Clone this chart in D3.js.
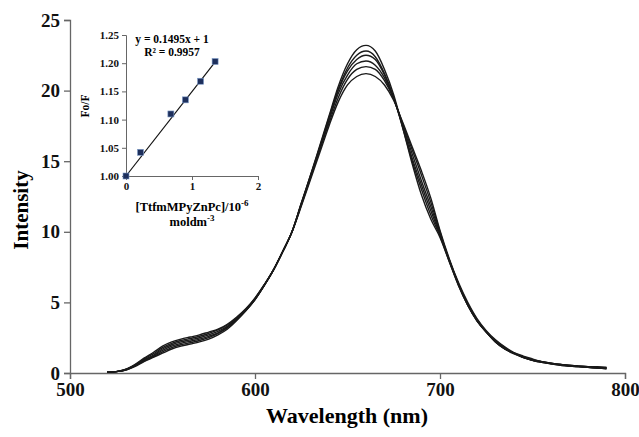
<!DOCTYPE html>
<meta charset="utf-8">
<style>
body { margin: 0; background: #fff; }
svg text { font-family: "Liberation Serif", "Times New Roman", serif; font-weight: bold; }
</style>
<script src="https://cdn.jsdelivr.net/npm/d3@7"></script>
<div id="chart"></div>
<script>
// wavelengths (nm), 5 nm steps
var wl = [520,525,530,535,540,545,550,555,560,565,570,575,580,585,590,595,600,605,610,615,
          620,625,630,635,640,645,650,655,660,665,670,675,680,685,690,695,700,705,710,715,
          720,725,730,735,740,745,750,755,760,765,770,775,780,785,790];

// emission spectra, highest peak first
var spec1 = [0.05,0.1,0.2,0.45,0.8,1.1,1.4,1.7,1.9,2.05,2.2,2.4,2.7,3.1,3.7,4.4,5.2,6.2,7.3,8.6,
             10.0,12.0,14.0,16.1,18.2,20.3,21.9,22.9,23.2,22.8,21.5,19.7,17.3,14.8,12.6,10.9,9.6,7.9,6.2,4.8,
             3.7,2.9,2.2,1.7,1.4,1.1,0.9,0.8,0.7,0.6,0.55,0.5,0.45,0.45,0.4];
var spec2 = [0.05,0.1,0.2,0.5,0.85,1.15,1.5,1.8,2.0,2.15,2.3,2.5,2.8,3.2,3.75,4.4,5.2,6.2,7.3,8.6,
             10.0,12.0,14.0,16.0,18.1,20.1,21.6,22.5,22.8,22.4,21.2,19.5,17.3,15.0,13.0,11.2,9.7,7.9,6.2,4.8,
             3.7,2.9,2.2,1.7,1.4,1.1,0.9,0.8,0.7,0.6,0.55,0.5,0.45,0.4,0.4];
var spec3 = [0.05,0.1,0.2,0.5,0.9,1.2,1.6,1.9,2.1,2.25,2.4,2.6,2.85,3.25,3.8,4.45,5.2,6.2,7.3,8.6,
             10.0,12.0,13.9,15.9,18.0,20.0,21.4,22.2,22.5,22.2,21.1,19.5,17.4,15.2,13.3,11.5,9.8,8.0,6.3,4.8,
             3.7,2.9,2.2,1.7,1.35,1.1,0.9,0.75,0.65,0.6,0.5,0.45,0.45,0.4,0.35];
var spec4 = [0.05,0.1,0.25,0.55,0.95,1.25,1.7,2.0,2.2,2.35,2.5,2.7,2.95,3.3,3.85,4.5,5.25,6.2,7.3,8.6,
             10.0,11.9,13.9,15.9,17.9,19.8,21.1,21.9,22.1,21.8,20.9,19.4,17.5,15.5,13.6,11.8,9.9,8.0,6.3,4.9,
             3.75,2.9,2.25,1.75,1.4,1.1,0.9,0.75,0.65,0.55,0.5,0.45,0.4,0.35,0.35];
var spec5 = [0.05,0.1,0.25,0.55,1.0,1.35,1.8,2.1,2.3,2.45,2.6,2.8,3.05,3.4,3.9,4.5,5.3,6.25,7.3,8.6,
             10.0,11.9,13.8,15.8,17.7,19.5,20.8,21.5,21.7,21.5,20.7,19.4,17.6,15.8,14.0,12.1,10.0,8.0,6.3,4.9,
             3.8,2.95,2.3,1.8,1.4,1.15,0.95,0.8,0.65,0.55,0.5,0.45,0.4,0.35,0.3];
var spec6 = [0.05,0.1,0.25,0.6,1.05,1.45,1.9,2.2,2.4,2.55,2.7,2.9,3.1,3.45,3.95,4.55,5.3,6.25,7.3,8.6,
             10.0,11.8,13.7,15.6,17.5,19.2,20.4,21.0,21.2,21.0,20.4,19.3,17.7,16.0,14.3,12.4,10.1,8.1,6.4,5.0,
             3.85,3.0,2.35,1.85,1.45,1.2,1.0,0.8,0.7,0.6,0.5,0.45,0.4,0.35,0.3];
var spectra = [spec1, spec2, spec3, spec4, spec5, spec6];

// Stern-Volmer inset
var conc = [0, 0.22, 0.68, 0.9, 1.13, 1.35];
var foF  = [1.0, 1.042, 1.11, 1.135, 1.168, 1.203];
var slope = 0.1495, intercept = 1;

var xTicks = [500, 600, 700, 800];
var yTicks = [0, 5, 10, 15, 20, 25];
var inXTicks = [0, 1, 2];
var inYTicks = [1.00, 1.05, 1.10, 1.15, 1.20, 1.25];

var W = 639, H = 437;
var svg = d3.select("#chart").append("svg")
    .attr("width", W).attr("height", H);

var x = d3.scaleLinear().domain([500, 800]).range([70, 625]);
var y = d3.scaleLinear().domain([0, 25]).range([373, 20]);

var axisCol = "#666";

var gx = svg.append("g")
    .attr("transform", "translate(0," + y(0) + ")")
    .call(d3.axisBottom(x).tickValues(xTicks).tickSize(6).tickPadding(4));
var gy = svg.append("g")
    .attr("transform", "translate(" + x(500) + ",0)")
    .call(d3.axisLeft(y).tickValues(yTicks).tickSize(6).tickPadding(4));

[gx, gy].forEach(function(g) {
    g.attr("font-family", null);
    g.select(".domain").attr("stroke", axisCol).attr("stroke-width", 1.3);
    g.selectAll(".tick line").attr("stroke", axisCol).attr("stroke-width", 1.3);
    g.selectAll(".tick text").attr("fill", "#111").style("font-size", "19px");
});

svg.append("text")
    .attr("x", 347).attr("y", 423)
    .attr("text-anchor", "middle")
    .style("font-size", "22px")
    .text("Wavelength (nm)");

svg.append("text")
    .attr("transform", "translate(28,210) rotate(-90)")
    .attr("text-anchor", "middle")
    .style("font-size", "21px")
    .text("Intensity");

var line = d3.line()
    .x(function(d, i) { return x(wl[i]); })
    .y(function(d) { return y(d); })
    .curve(d3.curveMonotoneX);

svg.selectAll(".spec")
    .data(spectra)
    .enter().append("path")
    .attr("class", "spec")
    .attr("d", line)
    .attr("fill", "none")
    .attr("stroke", "#1a1a1a")
    .attr("stroke-width", 1.4);

// inset
var ix = d3.scaleLinear().domain([0, 2]).range([126, 258]);
var iy = d3.scaleLinear().domain([1.0, 1.25]).range([176, 35]);

var ig = svg.append("g");
var igx = ig.append("g")
    .attr("transform", "translate(0," + iy(1.0) + ")")
    .call(d3.axisBottom(ix).tickValues(inXTicks).tickSize(4).tickPadding(2).tickFormat(d3.format("d")));
var igy = ig.append("g")
    .attr("transform", "translate(" + ix(0) + ",0)")
    .call(d3.axisLeft(iy).tickValues(inYTicks).tickSize(4).tickPadding(3).tickFormat(d3.format(".2f")));

[igx, igy].forEach(function(g) {
    g.attr("font-family", null);
    g.select(".domain").attr("stroke", axisCol);
    g.selectAll(".tick line").attr("stroke", axisCol);
    g.selectAll(".tick text").attr("fill", "#111").style("font-size", "11px");
});

ig.append("line")
    .attr("x1", ix(0)).attr("y1", iy(intercept))
    .attr("x2", ix(1.37)).attr("y2", iy(intercept + slope * 1.37))
    .attr("stroke", "#111").attr("stroke-width", 1.2);

ig.selectAll(".pt")
    .data(conc)
    .enter().append("rect")
    .attr("class", "pt")
    .attr("x", function(d) { return ix(d) - 3; })
    .attr("y", function(d, i) { return iy(foF[i]) - 3; })
    .attr("width", 6).attr("height", 6)
    .attr("fill", "#1d2f5c")
    .attr("stroke", "#7d9bc8").attr("stroke-width", 0.6);

ig.append("text")
    .attr("x", 172).attr("y", 43)
    .attr("text-anchor", "middle")
    .style("font-size", "11.5px")
    .text("y = 0.1495x + 1");
ig.append("text")
    .attr("x", 172).attr("y", 56)
    .attr("text-anchor", "middle")
    .style("font-size", "11.5px")
    .text("R\u00B2 = 0.9957");

ig.append("text")
    .attr("transform", "translate(89,106) rotate(-90)")
    .attr("text-anchor", "middle")
    .style("font-size", "11.5px")
    .text("Fo/F");

var lab1 = ig.append("text")
    .attr("x", 192).attr("y", 211)
    .attr("text-anchor", "middle")
    .style("font-size", "12.5px");
lab1.append("tspan").text("[TtfmMPyZnPc]/10");
lab1.append("tspan").attr("dy", -5).style("font-size", "9px").text("-6");

var lab2 = ig.append("text")
    .attr("x", 192).attr("y", 226)
    .attr("text-anchor", "middle")
    .style("font-size", "12.5px");
lab2.append("tspan").text("moldm");
lab2.append("tspan").attr("dy", -5).style("font-size", "9px").text("-3");
</script>
